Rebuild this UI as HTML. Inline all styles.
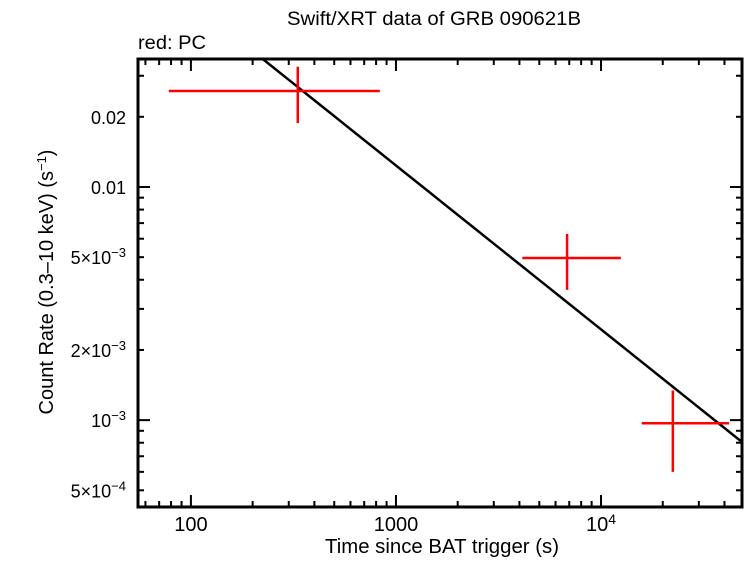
<!DOCTYPE html>
<html><head><meta charset="utf-8"><style>
body{margin:0;background:#fff;}
svg{font-family:"Liberation Sans",sans-serif;}
</style></head><body>
<svg id="chart" width="746" height="558" xmlns="http://www.w3.org/2000/svg">
<text x="434" y="25" font-size="19" text-anchor="middle" textLength="294" lengthAdjust="spacingAndGlyphs">Swift/XRT data of GRB 090621B</text>
<text x="138" y="49" font-size="19" textLength="68" lengthAdjust="spacingAndGlyphs">red: PC</text>
<text x="442" y="553" font-size="20" text-anchor="middle" textLength="234" lengthAdjust="spacingAndGlyphs">Time since BAT trigger (s)</text>
<text transform="translate(53,282) rotate(-90)" font-size="20" text-anchor="middle">Count Rate (0.3–10 keV) (s<tspan dy="-7" font-size="13">−1</tspan><tspan dy="7">)</tspan></text>
<g id="axes"></g>
<g id="marks"></g>
<rect x="138" y="59" width="604" height="448" fill="none" stroke="#000" stroke-width="3"/>
</svg>
<script>
const times=[332,6830,22400];
const timeLo=[78,4130,15800];
const timeHi=[834,12500,42100];
const rates=[0.0258,0.00496,0.00097];
const rateLo=[0.0188,0.00362,0.00060];
const rateHi=[0.0328,0.00629,0.00134];
const fitNorm=0.0354, fitT0=224, fitIndex=0.703;
const xTickVals=[100,1000,10000];
const xTickLabels=["100","1000","10^4"];
const yTickVals=[0.02,0.01,0.005,0.002,0.001,0.0005];
const yTickLabels=["0.02","0.01","5×10^−3","2×10^−3","10^−3","5×10^−4"];

const L=138,R=742,T=59,B=507;
const xmin=Math.log10(55.2),xmax=Math.log10(48700);
const ymin=Math.log10(4.24e-4),ymax=Math.log10(0.0354);
const X=t=>L+(Math.log10(t)-xmin)/(xmax-xmin)*(R-L);
const Y=v=>B-(Math.log10(v)-ymin)/(ymax-ymin)*(B-T);
const NS="http://www.w3.org/2000/svg";
function mk(tag,attrs,parent){const e=document.createElementNS(NS,tag);for(const k in attrs)e.setAttribute(k,attrs[k]);parent.appendChild(e);return e;}
const axes=document.getElementById('axes'),marks=document.getElementById('marks');
function lbl(el,txt,sup){const p=txt.split('^');el.textContent=p[0];if(p[1]){const s=mk('tspan',{dy:-7,'font-size':sup},el);s.textContent=p[1];}}
for(let d=1;d<=5;d++)for(let m=1;m<10;m++){const t=m*Math.pow(10,d);const x=X(t);if(x<L||x>R)continue;const len=m===1?12:6;
 const a=mk('line',{x1:x,x2:x,y1:B,y2:B-len,stroke:'#000','stroke-width':2},axes);
 
 const b=mk('line',{x1:x,x2:x,y1:T,y2:T+len,stroke:'#000','stroke-width':2},axes);
 }
xTickVals.forEach((v,i)=>{const t=mk('text',{x:X(v),y:531,'font-size':20,'text-anchor':'middle'},axes);lbl(t,xTickLabels[i],14);
 });
for(let d=-4;d<=-1;d++)for(let m=1;m<10;m++){const v=m*Math.pow(10,d);const y=Y(v);if(y<T||y>B)continue;const len=m===1?12:6;
 const a=mk('line',{x1:L,x2:L+len,y1:y,y2:y,stroke:'#000','stroke-width':2},axes);
 
 const b=mk('line',{x1:R,x2:R-len,y1:y,y2:y,stroke:'#000','stroke-width':2},axes);
 }
yTickVals.forEach((v,i)=>{const t=mk('text',{x:126,y:Y(v)+7,'font-size':18,'text-anchor':'end'},axes);lbl(t,yTickLabels[i],13);
 });
let pts=[];for(let i=0;i<=50;i++){const lt=xmin+(xmax-xmin)*i/50;const t=Math.pow(10,lt);const v=fitNorm*Math.pow(t/fitT0,-fitIndex);pts.push([X(t),Y(v)]);}
const cp=mk('clipPath',{id:'clip'},marks);mk('rect',{x:L,y:T,width:R-L,height:B-T},cp);
const fl=mk('polyline',{points:pts.map(p=>p.join(',')).join(' '),fill:'none',stroke:'#000','stroke-width':2.5,'clip-path':'url(#clip)'},marks);

times.forEach((t,i)=>{
 const h=mk('line',{x1:X(timeLo[i]),x2:X(timeHi[i]),y1:Y(rates[i]),y2:Y(rates[i]),stroke:'#f00','stroke-width':2.5},marks);
 
 const v=mk('line',{x1:X(t),x2:X(t),y1:Y(rateLo[i]),y2:Y(rateHi[i]),stroke:'#f00','stroke-width':2.5},marks);
 
});
</script>
</body></html>
